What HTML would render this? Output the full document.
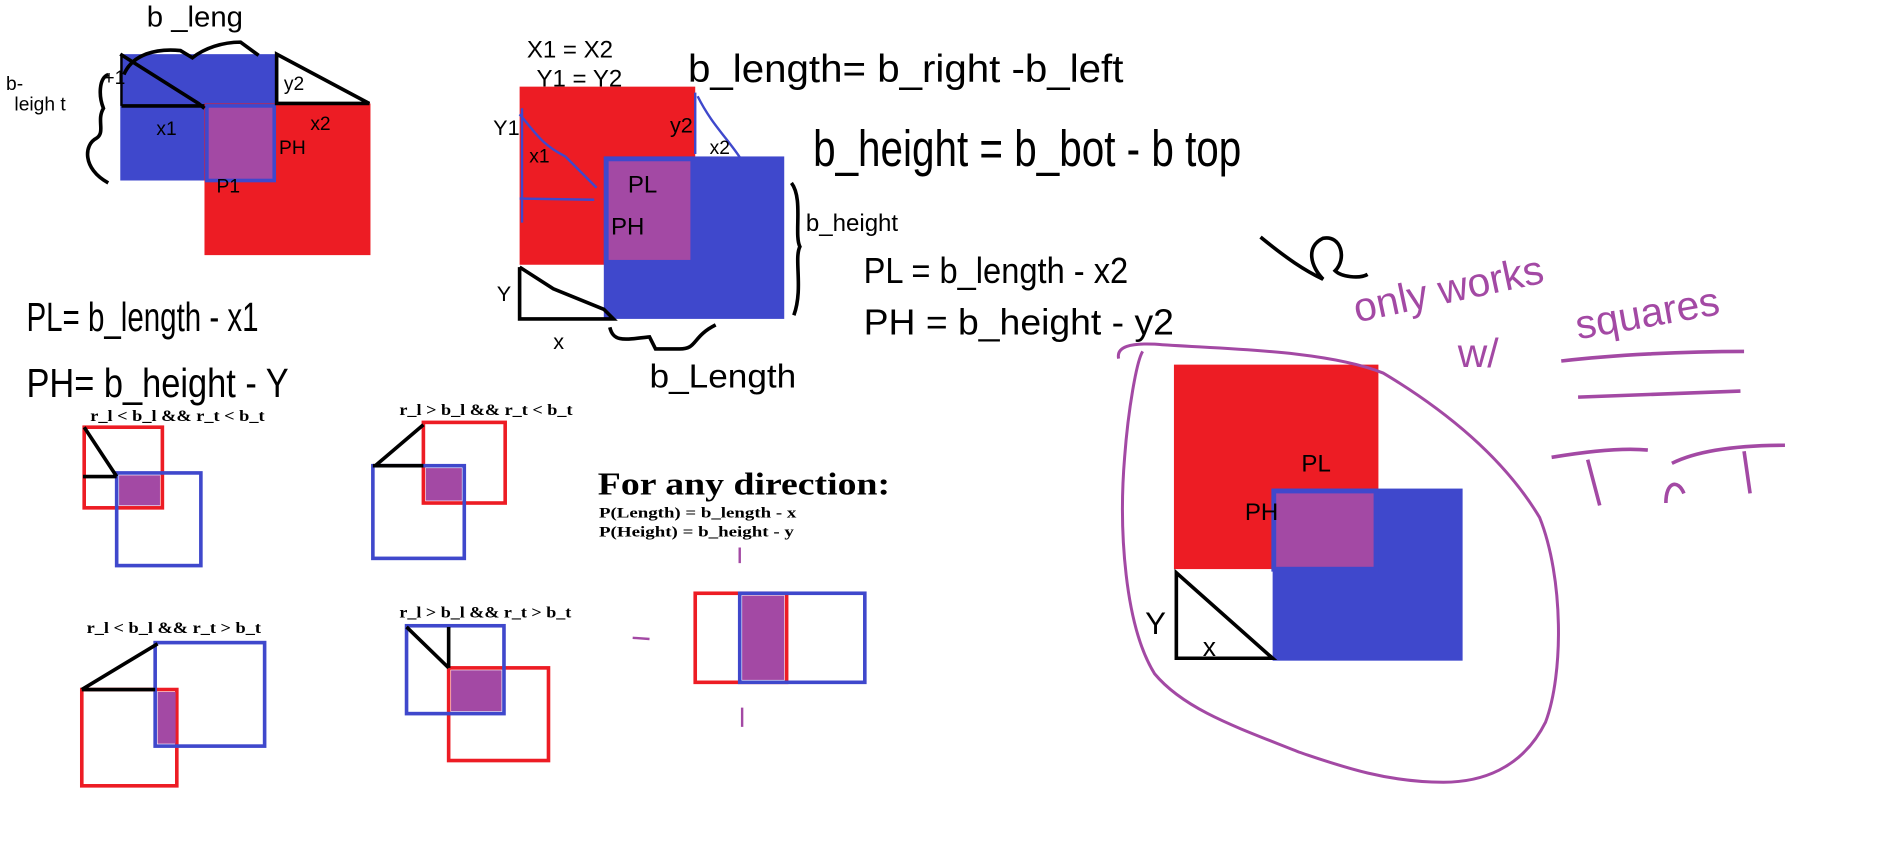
<!DOCTYPE html>
<html><head><meta charset="utf-8"><style>
html,body{margin:0;padding:0;background:#fff;width:1886px;height:852px;overflow:hidden}
svg{display:block}
.h{font-family:"Liberation Sans Narrow","Liberation Sans",sans-serif;fill:#000}
.s{font-family:"Liberation Serif",serif;font-weight:bold;fill:#000}
</style></head><body>
<svg width="1886" height="852" viewBox="0 0 1568 708" preserveAspectRatio="none" xmlns="http://www.w3.org/2000/svg">
<g>
<rect x="100" y="45" width="130" height="105" fill="#3f48cc"/>
<rect x="170" y="86" width="138" height="126" fill="#ed1c24"/>
<rect x="172" y="88" width="56" height="62" fill="#a349a4" stroke="#3f48cc" stroke-width="3"/>
<polygon points="230,45 230,86 307,86" fill="#fff" stroke="#000" stroke-width="3"/>
<polyline points="100,45 165,86 170,90" fill="none" stroke="#000" stroke-width="3"/>
<line x1="101" y1="88" x2="170" y2="88" stroke="#000" stroke-width="3"/>
<line x1="101" y1="46" x2="101" y2="88" stroke="#000" stroke-width="2"/>
<path d="M103,62 C110,45 130,40 150,42 L160,48 C170,40 185,35 200,35 L215,46" fill="none" stroke="#000" stroke-width="3"/>
<path d="M90,62 C82,65 82,80 86,90 C80,100 88,110 80,115 C70,120 68,140 90,152" fill="none" stroke="#000" stroke-width="3"/>
<text class="h" x="122" y="22" font-size="24" textLength="80" lengthAdjust="spacingAndGlyphs">b _leng</text>
<text class="h" x="5" y="75" font-size="16">b-</text>
<text class="h" x="12" y="92" font-size="16">leigh t</text>
<text class="h" x="86" y="70" font-size="16">+1</text>
<text class="h" x="130" y="112" font-size="16">x1</text>
<text class="h" x="236" y="75" font-size="16">y2</text>
<text class="h" x="258" y="108" font-size="16">x2</text>
<text class="h" x="232" y="128" font-size="16">PH</text>
<text class="h" x="180" y="160" font-size="16">P1</text>
</g>
<g>
<rect x="432" y="72" width="146" height="148" fill="#ed1c24"/>
<rect x="502" y="130" width="150" height="135" fill="#3f48cc"/>
<rect x="504" y="132" width="72" height="86" fill="#a349a4" stroke="#3f48cc" stroke-width="4"/>
<path d="M432,95 C445,110 450,120 470,130 L496,156 M432,165 L494,166 M434,90 L434,185" fill="none" stroke="#3f48cc" stroke-width="2"/>
<path d="M578,77 L578,128 M580,80 C595,110 612,120 626,150" fill="none" stroke="#3f48cc" stroke-width="2"/>
<polyline points="432,222 432,265 510,265 502,257 460,240 432,222" fill="none" stroke="#000" stroke-width="3"/>
<path d="M507,272 C510,285 520,282 540,280 L545,290 L565,290 C580,290 575,280 595,270" fill="none" stroke="#000" stroke-width="3"/>
<path d="M658,152 C668,165 660,195 665,205 C660,215 668,240 660,262" fill="none" stroke="#000" stroke-width="3"/>
<text class="h" x="438" y="48" font-size="20">X1 = X2</text>
<text class="h" x="446" y="72" font-size="20">Y1 = Y2</text>
<text class="h" x="572" y="68" font-size="32" textLength="362" lengthAdjust="spacingAndGlyphs">b_length= b_right -b_left</text>
<text class="h" x="676" y="138" font-size="42" textLength="356" lengthAdjust="spacingAndGlyphs">b_height = b_bot - b top</text>
<text class="h" x="670" y="192" font-size="20">b_height</text>
<text class="h" x="718" y="235" font-size="30" textLength="220" lengthAdjust="spacingAndGlyphs">PL = b_length - x2</text>
<text class="h" x="718" y="278" font-size="30" textLength="258" lengthAdjust="spacingAndGlyphs">PH = b_height - y2</text>
<text class="h" x="410" y="112" font-size="18">Y1</text>
<text class="h" x="440" y="135" font-size="16">x1</text>
<text class="h" x="557" y="110" font-size="18">y2</text>
<text class="h" x="590" y="128" font-size="16">x2</text>
<text class="h" x="522" y="160" font-size="20">PL</text>
<text class="h" x="508" y="195" font-size="20">PH</text>
<text class="h" x="413" y="250" font-size="18">Y</text>
<text class="h" x="460" y="290" font-size="18">x</text>
<text class="h" x="540" y="322" font-size="28" textLength="122" lengthAdjust="spacingAndGlyphs">b_Length</text>
</g>
<g>
<text class="h" x="22" y="275" font-size="34" textLength="193" lengthAdjust="spacingAndGlyphs">PL= b_length - x1</text>
<text class="h" x="22" y="330" font-size="34" textLength="218" lengthAdjust="spacingAndGlyphs">PH= b_height - Y</text>
</g>
<g>
<text class="s" x="75" y="350" font-size="13" textLength="145" lengthAdjust="spacingAndGlyphs">r_l &lt; b_l &amp;&amp; r_t &lt; b_t</text>
<rect x="70" y="355" width="65" height="67" fill="none" stroke="#ed1c24" stroke-width="3"/>
<rect x="99" y="395" width="34" height="25" fill="#a349a4"/>
<rect x="97" y="393" width="70" height="77" fill="none" stroke="#3f48cc" stroke-width="3"/>
<path d="M70,355 L97,396 M69,396 L97,396" stroke="#000" stroke-width="3"/>
</g>
<g>
<text class="s" x="332" y="345" font-size="13" textLength="144" lengthAdjust="spacingAndGlyphs">r_l &gt; b_l &amp;&amp; r_t &lt; b_t</text>
<rect x="352" y="351" width="68" height="67" fill="none" stroke="#ed1c24" stroke-width="3"/>
<rect x="354" y="389" width="30" height="27" fill="#a349a4"/>
<rect x="310" y="387" width="76" height="77" fill="none" stroke="#3f48cc" stroke-width="3"/>
<path d="M352,353 L312,387 M310,387 L352,387" stroke="#000" stroke-width="3"/>
</g>
<g>
<text class="s" x="72" y="526" font-size="13" textLength="145" lengthAdjust="spacingAndGlyphs">r_l &lt; b_l &amp;&amp; r_t &gt; b_t</text>
<rect x="68" y="573" width="79" height="80" fill="none" stroke="#ed1c24" stroke-width="3"/>
<rect x="131" y="575" width="15" height="43" fill="#a349a4"/>
<rect x="129" y="534" width="91" height="86" fill="none" stroke="#3f48cc" stroke-width="3"/>
<path d="M131,535 L68,573 M68,573 L129,573" stroke="#000" stroke-width="3"/>
</g>
<g>
<text class="s" x="332" y="513" font-size="13" textLength="143" lengthAdjust="spacingAndGlyphs">r_l &gt; b_l &amp;&amp; r_t &gt; b_t</text>
<rect x="373" y="555" width="83" height="77" fill="none" stroke="#ed1c24" stroke-width="3"/>
<rect x="375" y="557" width="42" height="34" fill="#a349a4"/>
<rect x="338" y="520" width="81" height="73" fill="none" stroke="#3f48cc" stroke-width="3"/>
<path d="M338,521 L373,555 M373,521 L373,555" stroke="#000" stroke-width="3"/>
</g>
<g>
<text class="s" x="497" y="411" font-size="26" textLength="243" lengthAdjust="spacingAndGlyphs">For any direction:</text>
<text class="s" x="498" y="430" font-size="12" textLength="164" lengthAdjust="spacingAndGlyphs">P(Length) = b_length - x</text>
<text class="s" x="498" y="446" font-size="12" textLength="162" lengthAdjust="spacingAndGlyphs">P(Height) = b_height - y</text>
<rect x="578" y="493" width="76" height="74" fill="none" stroke="#ed1c24" stroke-width="3"/>
<rect x="617" y="495" width="35" height="70" fill="#a349a4"/>
<rect x="615" y="493" width="104" height="74" fill="none" stroke="#3f48cc" stroke-width="3"/>
<path d="M615,455 L615,468 M617,588 L617,604 M526,530 L540,531" stroke="#a349a4" stroke-width="2"/>
</g>
<g>
<rect x="976" y="303" width="170" height="170" fill="#ed1c24"/>
<rect x="1058" y="406" width="158" height="143" fill="#3f48cc"/>
<rect x="976" y="473" width="82" height="76" fill="#fff"/>
<rect x="1059" y="408" width="85" height="65" fill="#a349a4" stroke="#3f48cc" stroke-width="4"/>
<polygon points="978,476 978,547 1058,547" fill="none" stroke="#000" stroke-width="3"/>
<text class="h" x="1082" y="392" font-size="20">PL</text>
<text class="h" x="1035" y="432" font-size="20">PH</text>
<text class="h" x="952" y="527" font-size="26">Y</text>
<text class="h" x="1000" y="545" font-size="22">x</text>
<path d="M930,298 C928,288 940,285 960,286 C1010,290 1100,290 1150,310 C1200,340 1250,380 1280,430 C1300,480 1300,560 1285,600 C1265,640 1230,650 1200,650 C1150,650 1110,635 1080,625 C1030,605 985,590 960,560 C935,520 930,440 935,380 C938,340 945,300 950,292" fill="none" stroke="#a349a4" stroke-width="2.5"/>
<path d="M1048,197 C1070,215 1085,225 1100,232 C1090,222 1085,205 1100,198 C1115,195 1120,215 1110,225 C1115,230 1130,232 1137,228" fill="none" stroke="#000" stroke-width="3"/>
<text class="h" x="1128" y="268" font-size="34" style="fill:#a349a4" transform="rotate(-12 1128 268)">only works</text>
<text class="h" x="1212" y="305" font-size="34" style="fill:#a349a4">w/</text>
<text class="h" x="1312" y="282" font-size="34" style="fill:#a349a4" transform="rotate(-10 1312 282)">squares</text>
<path d="M1298,300 C1340,295 1400,292 1450,292 M1312,330 L1447,325 M1290,380 C1320,375 1350,372 1370,374 M1390,385 C1410,375 1440,370 1484,370 M1320,382 L1330,420 M1450,375 L1455,410 M1385,418 C1385,400 1395,398 1400,410" fill="none" stroke="#a349a4" stroke-width="3"/>
</g>
</svg>
</body></html>
